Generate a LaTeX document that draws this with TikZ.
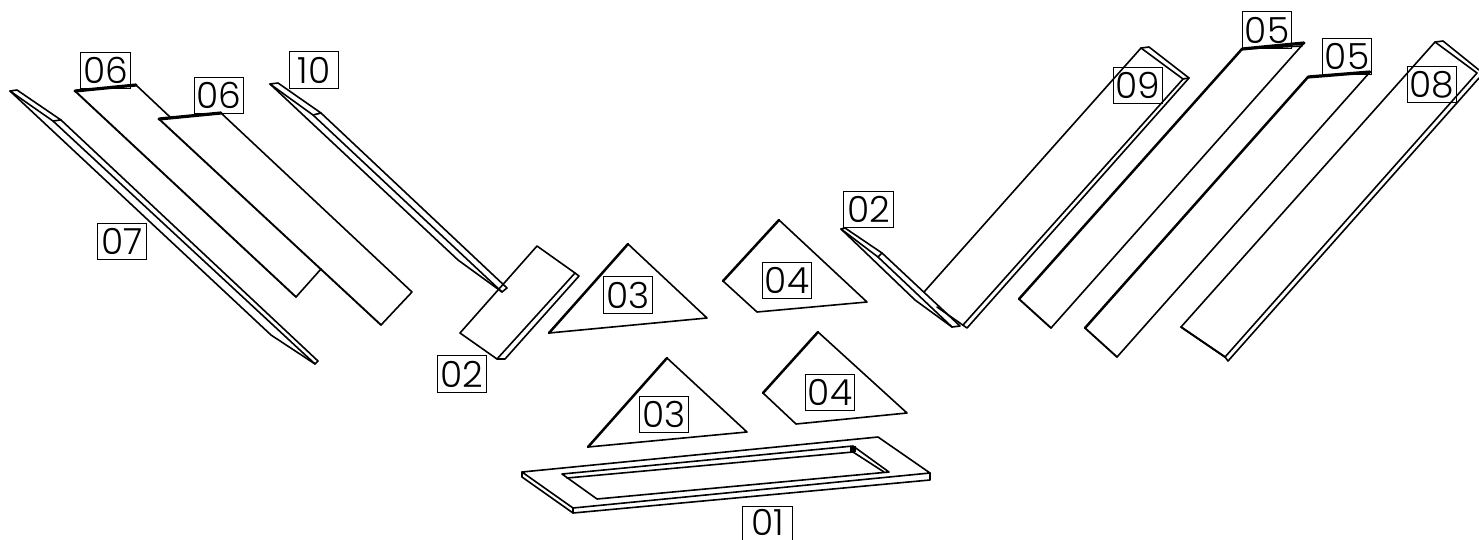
\documentclass[tikz,border=0pt]{standalone}
\usepackage{fontspec}
\newfontfamily\labfont{Poppins Light}
\tikzset{
  part/.style={draw=black,line width=1.6pt,line join=round,line cap=round},
  edge2/.style={draw=black,line width=1.9pt,line join=round,line cap=round},
  heavy/.style={draw=black,line width=3.2pt,line cap=round},
  mid/.style={draw=black,line width=2.5pt,line cap=round},
  tagtext/.style={inner sep=0pt,font=\labfont\fontsize{36}{36}\selectfont,text=black},
  tag/.style={tagtext,draw=black,line width=1.4pt,minimum width=49.5pt,minimum height=36.5pt},
  tagopen/.style={draw=black,line width=1.4pt}
}
\begin{document}
\begin{tikzpicture}[x=1pt,y=-1pt]
\useasboundingbox (0,0) rectangle (1479,539);
\clip (0,0) rectangle (1479,539);
% 07
\draw[part] (61,120)--(17,90)--(10,91)--(53,121)--(61,120);
\draw[part] (10,91)--(271,335)--(315,364)--(318,361)--(61,120);
\draw[part] (53,121)--(315,364);
% 10
\draw[part] (321,113)--(278,83)--(270,84)--(313,115)--(321,113);
\draw[part] (270,84)--(458,260)--(502,292)--(507,288)--(321,113);
\draw[part] (313,115)--(502,292);
% 06 a
\draw[part] (170,117)--(136,85);
\draw[edge2] (75,91)--(296,297);
\draw[part] (296,297)--(321,269);
\draw[heavy] (75,91)--(136,85);
% 06 b
\draw[part] (221,113)--(412,292)--(381,325);
\draw[edge2] (381,325)--(159,119);
\draw[heavy] (159,119)--(221,113);
% 02 left
\draw[part] (460,333)--(537,246)--(575,273)--(497,359)--cycle;
\draw[part] (575,273)--(579,276)--(505,359)--(497,359);
% 03, 04
\draw[part] (628,244)--(707,318)--(549,333);
\draw[mid] (549,333)--(628,244);
\draw[part] (779,220)--(867,302)--(757,312)--(723,281);
\draw[mid] (723,281)--(779,220);
\draw[part] (667,358)--(747,432)--(588,447);
\draw[mid] (588,447)--(667,358);
\draw[part] (818,332)--(907,413)--(796,424)--(763,393);
\draw[mid] (763,393)--(818,332);
% 01
\draw[part] (522,472)--(878,437)--(930,473)--(573,508)--cycle;
\draw[part] (522,472)--(522,477)--(573,513)--(930,480)--(930,473);
\draw[part] (573,508)--(573,513);
\draw[part] (853,446)--(562,474)--(597,499)--(889,472)--cycle;
\draw[part] (567,478)--(853,452)--(884,472);
\fill[black] (850,446) rectangle (856,452);
% 02 right
\draw[part] (882,253)--(845,228)--(841,229)--(878,257)--(882,253);
\draw[part] (841,229)--(915,300)--(952,327)--(960,326)--(882,253);
\draw[part] (878,257)--(952,327);
% 09
\draw[part] (924,292)--(1141,48)--(1149,47)--(1189,78)--(967,328)--(937,307);
\draw[part] (1141,48)--(1183,79)--(1189,78);
\draw[part] (1183,79)--(963,325);
% 05 a
\draw[part] (1304,43)--(1051,328);
\draw[edge2] (1051,328)--(1019,299);
\draw[mid] (1019,299)--(1242,49);
\draw[heavy] (1242,49)--(1304,43);
\draw[part] (1242,49)--(1302,46);
% 05 b
\draw[part] (1370,72)--(1117,357);
\draw[edge2] (1117,357)--(1085,328);
\draw[mid] (1085,328)--(1308,77);
\draw[heavy] (1308,77)--(1370,72);
% 08
\draw[part] (1225,357)--(1181,327)--(1435,42)--(1443,41)--(1479,70);
\draw[edge2] (1225,357)--(1181,327);
\draw[part] (1435,42)--(1477,73)--(1225,357)--(1228,361)--(1479,78);
% labels
\node[tag] (t06a) at (105.5,70.5) {06};
\node[tag] (t06b) at (219,95.5) {06};
\node[tag] (t10)  at (314,70) {10};
\node[tag] (t07)  at (122,241.5) {07};
\node[tag] (t02a) at (462,374) {02};
\node[tag] (t03a) at (628,295) {03};
\node[tag] (t04a) at (787,280.5) {04};
\node[tag] (t03b) at (664,414.5) {03};
\node[tag] (t04b) at (830,392.5) {04};
\node[tagtext] (t01)  at (767.5,522) {01};
\draw[tagopen] (742.75,540)--(742.75,506.25)--(792.25,506.25)--(792.25,540);
\node[tag] (t02b) at (868.5,209.5) {02};
\node[tag] (t09)  at (1138,85.5) {09};
\node[tag] (t05a) at (1267,30) {05};
\node[tag] (t05b) at (1347,56.5) {05};
\node[tag] (t08)  at (1432,84.5) {08};
\end{tikzpicture}
\end{document}
